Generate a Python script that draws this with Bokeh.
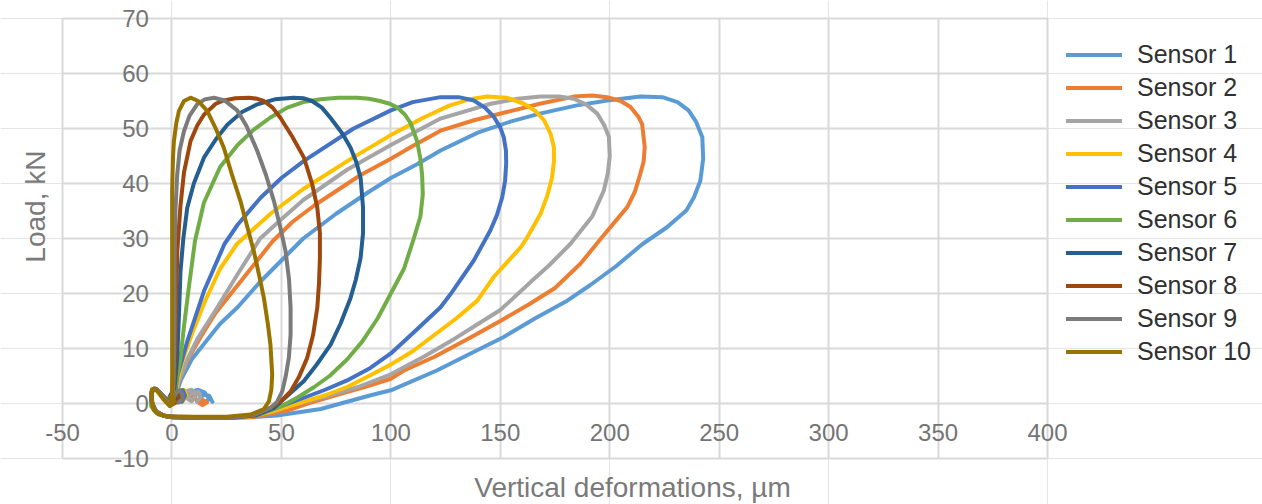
from math import pi
from bokeh.plotting import figure
from bokeh.models import (Range1d, FixedTicker, ColumnDataSource, Legend, LegendItem, Label,
                          LinearAxis, Grid)
from bokeh.embed import file_html
from bokeh.resources import INLINE

# ---------------- data ----------------
x_ticks = [-50, 0, 50, 100, 150, 200, 250, 300, 350, 400]
y_ticks = [-10, 0, 10, 20, 30, 40, 50, 60, 70]

sensor_names = ["Sensor 1", "Sensor 2", "Sensor 3", "Sensor 4", "Sensor 5",
                "Sensor 6", "Sensor 7", "Sensor 8", "Sensor 9", "Sensor 10"]
sensor_colors = ["#5B9BD5", "#ED7D31", "#A5A5A5", "#FFC000", "#4472C4",
                 "#70AD47", "#255E91", "#9E480E", "#7B7B7B", "#997300"]

# (deformation um, load kN) pairs for each sensor
sensor1 = [(1, 0.5), (4, 4.2), (9, 8), (14.6, 10.8), (22, 14.5), (30, 17.5), (40, 22), (50, 26),
           (60, 30), (75, 34.5), (90, 38.5), (100, 41), (112, 43.5), (122.7, 46), (140, 49.3),
           (155, 51.3), (168, 52.7), (185, 54.2), (199, 55.1), (214, 55.8), (224, 55.7),
           (231, 54.8), (236, 53.3), (239.5, 51.2), (242.3, 48.4), (242.7, 44.5), (241.4, 40.5),
           (238.5, 37.5), (235, 35.1), (226, 32), (215, 29), (203, 25), (191, 21.5),
           (180.6, 18.7), (166, 15.5), (151.6, 12.1), (136, 9), (121, 6), (100, 2.4),
           (90.8, 1.5), (68, -1), (48, -2.2), (30, -2.6), (15, -2.6), (2, -2.5), (-4, -2.2),
           (-7.5, -1.5), (-9.5, 0.2), (-9.5, 2.2), (-8, 2.8), (-5, 1.8), (-1, 0.2), (3, 0.8),
           (8, 2.0), (12, 2.5), (15, 2.0), (17, 0.8), (15, 0.1), (13, 0.6), (14, 1.6), (17, 1.4),
           (18.5, 0.3)]
sensor2 = [(1, 0.5), (3.5, 4.5), (8, 8.5), (13, 12), (20, 16.5), (33, 23), (46, 29.5), (55, 33),
           (65, 36), (86, 41.5), (100, 44.5), (110, 46.8), (122.7, 49.6), (138, 51.5), (153, 53),
           (168, 54.5), (183.6, 55.8), (192, 56), (198.8, 55.7), (205, 55), (209.5, 53.9),
           (213, 52.2), (214.8, 50.8), (216, 46.6), (215.5, 44), (214, 41.8), (211.5, 38.5),
           (208, 35.7), (196, 30), (186.6, 25.4), (175, 21), (163, 18), (150, 15),
           (136.4, 12), (120, 8.5), (106, 6), (100, 4.5), (88, 3), (75.5, 1.6), (62, 0),
           (52.7, -1.3), (37, -2.5), (20, -2.6), (5, -2.5), (-3, -2.3), (-7, -1.6), (-9, 0),
           (-9.3, 2), (-8, 2.7), (-5, 1.8), (-1, 0.2), (3, 0.6), (7, 1.6), (10, 1.2), (12, 0.2),
           (14, -0.3), (16, 0.2), (13.5, 0.8), (12, 0.3)]
sensor3 = [(1, 0.5), (3, 4), (7, 8), (12, 12), (20, 17), (30, 23.5), (40.3, 30), (50, 33.5),
           (60, 37), (80, 42.5), (100, 47), (122.7, 51.8), (145.6, 54.5), (158, 55.4),
           (168.4, 55.8), (177, 55.8), (183.6, 55.4), (189.5, 54.3), (194.3, 52.7),
           (197.5, 50.6), (199.6, 48.5), (200, 45), (199.2, 42), (197.3, 38.7), (192, 34),
           (182, 29), (172, 25), (165, 22.5), (154.7, 18.7), (150, 17), (140, 14.5), (128.8, 11.7),
           (115, 8.5), (100, 5.3), (85, 3), (67.9, 1), (55, -0.3), (45, -1.6), (30, -2.5),
           (15, -2.6), (3, -2.5), (-3, -2.3), (-7, -1.6), (-9, 0), (-9.3, 2), (-8, 2.7), (-5, 1.8),
           (-1, 0.2), (3, 0.8), (6, 2.2), (9, 2.5), (11, 1.5), (9, 0.4), (7, 0.9), (9, 2),
           (12, 2.2), (13, 1.2), (11.5, 0.3)]
sensor4 = [(1, 0.5), (2.5, 4), (5, 8), (9, 12.5), (15, 18.5), (22, 24.5), (29.7, 29), (45, 34.5),
           (60, 39), (83, 44.8), (100, 48.8), (115, 52), (127, 54.2), (136, 55.3), (144, 55.8),
           (153, 55.6), (160.8, 54.5), (166, 53.2), (170, 51.5), (173, 49), (174.5, 46.6),
           (174.5, 44), (173.7, 41.2), (171.5, 37.8), (168.4, 34.5), (162, 30), (159.3, 28.4),
           (147, 23), (139.5, 18.7), (130, 15.5), (120, 12.5), (110, 9.5), (100, 7.1), (90, 5),
           (80, 3), (70, 1.5), (60, 0.3), (45, -1.5), (35, -2.4), (20, -2.6), (5, -2.5),
           (-3, -2.3), (-7, -1.6), (-9, 0), (-9.3, 2), (-8, 2.7), (-5, 1.8), (-1, 0.2), (1.5, 1),
           (3, 2.4), (5.5, 2.5), (6.5, 1.5), (5, 0.4), (3.5, 1), (5, 1.8)]
sensor5 = [(1, 0.5), (2.5, 5), (7, 11.3), (14.6, 20.4), (24, 29), (30, 32.5), (40.5, 37.4),
           (50, 41), (60.3, 44.1), (83, 50), (100, 53.3), (110, 54.8), (122.7, 55.7),
           (131, 55.7), (137.9, 55.1), (143, 53.8), (147.1, 52.1), (150, 50.2), (151.6, 48.4),
           (152.6, 46), (152.7, 43.6), (152.2, 40.5), (150.9, 37.5), (148.5, 34.3),
           (145.5, 31.5), (137.9, 26), (127.3, 19.9), (122.7, 17.5), (112, 13.5), (100, 9.1),
           (90, 6.3), (80, 4.2), (70, 2.5), (60, 1), (45, -1.2), (35, -2.3), (20, -2.6), (5, -2.5),
           (-3, -2.3), (-7, -1.6), (-9, 0), (-9.3, 2), (-8, 2.7), (-5, 1.8), (-1, 0.2), (1, 1),
           (2.5, 2.3), (5, 2.4), (6, 1.4), (4.5, 0.3), (3, 0.8)]
sensor6 = [(0.5, 0.5), (2, 4), (3.9, 8.3), (5.5, 14), (7.5, 20.4), (10.5, 29.5), (14.6, 36.5),
           (22, 43), (30, 47), (37.4, 49.8), (45, 52), (52.7, 53.8), (60, 54.8), (67.9, 55.3),
           (76, 55.6), (84.6, 55.6), (90, 55.4), (95, 55), (99.5, 54.5), (103, 53.8), (106.5, 52.5),
           (109, 51), (112, 47.7), (113.5, 44.5), (114.3, 41.5), (114.6, 38), (113.5, 34),
           (110.5, 30), (106, 24.5), (100, 20), (94, 15.5), (87, 11.3), (80, 8), (72, 5), (65, 3),
           (57, 1), (50, -0.5), (40, -2), (30, -2.5), (15, -2.6), (3, -2.5), (-3, -2.3),
           (-7, -1.8), (-9.5, -0.5), (-9.6, 2), (-8, 2.7), (-5, 1.8), (-2, 0.3), (0, 1),
           (1.5, 2.2), (3.5, 2.2), (4, 1), (2.5, 0.2)]
sensor7 = [(0.5, 0.5), (1.5, 4), (2.4, 8.3), (3.2, 16), (3.9, 24), (5.2, 30), (7, 35.6), (10, 40),
           (14.6, 44.7), (20, 48), (25.3, 50.7), (32, 53), (39, 54.4), (47, 55.3), (55.6, 55.6),
           (60, 55.5), (64, 55), (68.5, 53.8), (72.5, 51.9), (78, 49), (81.6, 46.5), (84.3, 43.8),
           (86.2, 41), (87.3, 35.6), (87.3, 31), (86.2, 26.5), (84, 22.5), (81.6, 19.2), (77, 14.5),
           (72.5, 10.7), (66, 7), (60.3, 4.1), (53, 1.5), (46.6, -0.8), (38, -2.2), (25, -2.6),
           (10, -2.6), (0, -2.5), (-4, -2.2), (-8, -1.2), (-9.5, 0.8), (-9, 2.5), (-7, 2.6),
           (-4, 1.2), (-1.5, 0), (-1, 1.3), (0.5, 2.3), (2, 1.8), (1.5, 0.4), (-0.5, 0.3)]
sensor8 = [(0.5, 0.5), (1.2, 5), (1.6, 12), (2, 20.4), (2.5, 28), (3.9, 36), (5.5, 42),
           (8.5, 47.7), (11.5, 50.5), (14.6, 52.5), (20, 54.5), (23.7, 55.1), (29, 55.5),
           (35.1, 55.6), (39, 55.4), (42, 55), (46, 53.8), (49.6, 51.9), (55, 48.5), (60.3, 44.7),
           (64, 40), (66.4, 35.6), (67.6, 31), (67.6, 26.5), (67.2, 22), (66.4, 17.4), (64.5, 12.5),
           (61.8, 8.3), (58, 4.8), (54.2, 2.2), (50, 0.5), (45, -0.8), (38, -2), (28, -2.6),
           (12, -2.6), (0, -2.5), (-4, -2.2), (-8, -1.2), (-9.5, 0.8), (-9, 2.5), (-7, 2.6),
           (-4, 1.2), (-1, 0), (0.5, 1), (2, 2.2), (3.5, 1.8), (3, 0.5), (1, 0)]
sensor9 = [(0.3, 0.5), (0.8, 5), (1.2, 15), (1.2, 26.5), (1.6, 35), (2.4, 41.6), (3.5, 46),
           (5.5, 49.5), (8, 52.3), (11.5, 54.4), (15, 55.3), (19.2, 55.6), (24, 55.1), (29.8, 53.3),
           (34, 50.5), (39, 45.9), (43, 41.5), (46.6, 36.8), (49.5, 32), (51.9, 27.7), (53.5, 22.5),
           (54.2, 17.4), (54.2, 12.5), (53.4, 8.3), (52, 5), (50.4, 2.2), (48, 0.3), (45, -0.8),
           (38, -2), (28, -2.6), (12, -2.6), (0, -2.5), (-4, -2.2), (-8, -1.2), (-9.5, 0.8),
           (-9, 2.5), (-7, 2.6), (-4, 1.2), (-1, 0), (1, 1.2), (2.5, 2.3), (4.5, 2), (5, 0.8),
           (3, 0.2)]
sensor10 = [(0, 0.3), (0.1, 5), (0.1, 20), (0.1, 38.6), (0.5, 45), (0.9, 47.7), (2, 51),
            (3.2, 53.2), (5.5, 55), (8.5, 55.6), (12, 55), (16.1, 53.2), (20, 50), (23.7, 46.5),
            (27.5, 41.5), (31.3, 36.8), (34.5, 32), (37.4, 27.7), (40, 23), (42, 19.2),
            (43.8, 14.5), (45, 10.7), (45.8, 5.3), (45.4, 2.5), (44.3, 0.4), (42, -1), (36, -2),
            (25, -2.4), (10, -2.4), (-2, -2.3), (-6, -2), (-8.5, -1), (-9.5, 1), (-9, 2.6),
            (-7, 2.4), (-4, 0.8), (-1, -0.5), (1, 0.3), (0.5, 1.5), (-1, 1.2), (0.3, -0.2)]

sensors = [sensor1, sensor2, sensor3, sensor4, sensor5,
           sensor6, sensor7, sensor8, sensor9, sensor10]

# ---------------- figure ----------------
# The frame fills the whole canvas; the plot area (-50..400, -10..70) sits at
# left 62, right 1047, top 18, bottom 458 px, as in the reference.
FONT = "Liberation Sans"
W, H = 1262, 504
L, R, T, B = 62, 1047, 18, 458
sx = (R - L) / 450.0
sy = (B - T) / 80.0
p = figure(width=W, height=H, output_backend="svg", toolbar_location=None,
           x_axis_location=None, y_axis_location=None,
           x_range=Range1d(-50 - L / sx, 400 + (W - R) / sx),
           y_range=Range1d(-10 - (H - B) / sy, 70 + T / sy),
           min_border=0)
p.outline_line_color = None
p.background_fill_color = "white"
p.border_fill_color = "white"

xgrid = Grid(dimension=0, ticker=FixedTicker(ticks=x_ticks), bounds=(-50, 400),
             cross_bounds=(-10, 70), grid_line_color="#D9D9D9", grid_line_width=2)
ygrid = Grid(dimension=1, ticker=FixedTicker(ticks=y_ticks), bounds=(-10, 70),
             cross_bounds=(-50, 400), grid_line_color="#D9D9D9", grid_line_width=2)
p.add_layout(xgrid)
p.add_layout(ygrid)

xaxis = LinearAxis(ticker=FixedTicker(ticks=x_ticks), fixed_location=0, bounds=(-50, 400),
                   major_label_overrides={t: str(t) for t in x_ticks})
yaxis = LinearAxis(ticker=FixedTicker(ticks=y_ticks), fixed_location=0, bounds=(-10, 70),
                   major_label_overrides={t: str(t) for t in y_ticks})
for ax in (xaxis, yaxis):
    ax.axis_line_color = None
    ax.major_tick_line_color = None
    ax.minor_tick_line_color = None
    ax.major_tick_out = 0
    ax.major_tick_in = 0
    ax.major_label_text_font = FONT
    ax.major_label_text_font_size = "24px"
    ax.major_label_text_color = "#747474"
xaxis.major_label_standoff = 20
yaxis.major_label_standoff = 23
p.add_layout(xaxis, "below")
p.add_layout(yaxis, "left")

items = []
for name, color, pts in zip(sensor_names, sensor_colors, sensors):
    src = ColumnDataSource(data=dict(x=[a for a, b in pts], y=[b for a, b in pts]))
    r = p.line("x", "y", source=src, line_color=color, line_width=4,
               line_join="round", line_cap="round")
    items.append(LegendItem(label=name, renderers=[r]))

legend = Legend(items=items, location=(1066, 136), padding=0, spacing=0, margin=0,
                glyph_width=56, glyph_height=33, label_height=33, label_standoff=15,
                label_text_font=FONT, label_text_font_size="25px",
                label_text_color="#303030", border_line_color=None,
                background_fill_alpha=0)
p.add_layout(legend)

p.add_layout(Label(x=210.4, y=-15.3, text="Vertical deformations, \u00b5m",
                   text_align="center", text_baseline="middle",
                   text_font=FONT, text_font_size="28px", text_color="#7A7A7A"))
p.add_layout(Label(x=-62.3, y=35.8, text="Load, kN", angle=pi / 2,
                   text_align="center", text_baseline="middle",
                   text_font=FONT, text_font_size="28px", text_color="#7A7A7A"))

open("out.html", "w").write(file_html(p, INLINE))
